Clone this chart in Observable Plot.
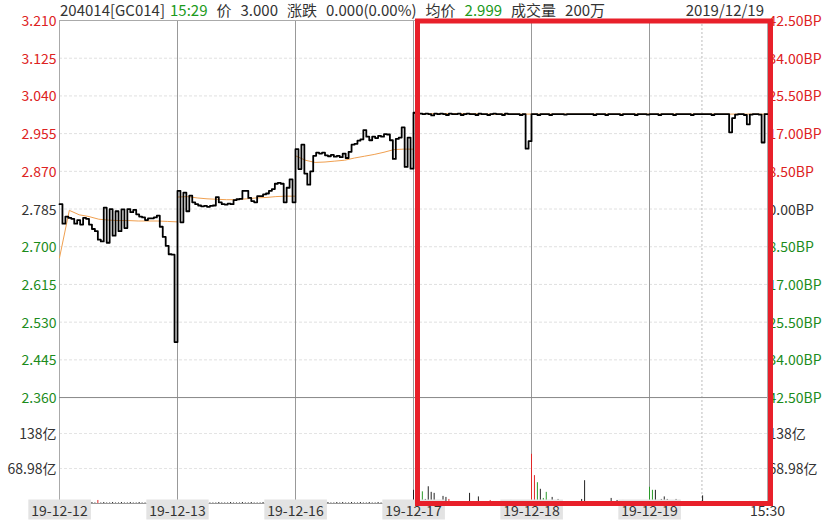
<!DOCTYPE html>
<html><head><meta charset="utf-8">
<script src="https://cdn.jsdelivr.net/npm/d3@7"></script>
<script src="https://cdn.jsdelivr.net/npm/@observablehq/plot@0.6"></script>
<style>
body{margin:0;background:#fff;}
#wrap{position:relative;width:823px;height:529px;font-family:"Noto Sans CJK SC","Noto Sans",sans-serif;}
#hdr{position:absolute;left:60px;top:0;height:20px;line-height:20px;font-size:15px;color:#333;white-space:nowrap;}
#hdr span{margin-right:9px}
#hdr span.first{margin-right:5px}
#date{position:absolute;right:59px;top:0;line-height:20px;font-size:15px;color:#333;}
.g{color:#1c9a1c}
</style></head>
<body><div id="wrap"><div id="chart"></div><div id="hdr"></div><div id="date"></div></div>
<script>
// ---- header texts ----
const hdrCode = "204014[GC014]";
const hdrTime = "15:29";
const hdrPrice = "3.000";
const hdrChange = "0.000(0.00%)";
const hdrAvg = "2.999";
const hdrVol = "200万";
const hdrDate = "2019/12/19";

// ---- axis ticks / labels ----
const dates = ["19-12-12","19-12-13","19-12-16","19-12-17","19-12-18","19-12-19"];
const endLabel = "15:30";
const prevClose = 2.785;
const priceTicks = [3.210,3.125,3.040,2.955,2.870,2.785,2.700,2.615,2.530,2.445,2.360];
const priceLabels = ["3.210","3.125","3.040","2.955","2.870","2.785","2.700","2.615","2.530","2.445","2.360"];
const bpLabels = ["42.50BP","34.00BP","25.50BP","17.00BP","8.50BP","0.00BP","8.50BP","17.00BP","25.50BP","34.00BP","42.50BP"];
const volTicks = [138, 68.98];
const volLabels = ["138亿","68.98亿"];
const highlightDay = "19-12-17";

// ---- price series (per day, equally spaced samples) ----
const price1 = [2.796,2.752,2.768,2.765,2.763,2.752,2.760,2.750,2.765,2.763,2.750,2.740,2.735,2.716,2.712,2.788,2.709,2.785,2.725,2.780,2.735,2.784,2.742,2.785,2.778,2.783,2.773,2.768,2.766,2.760,2.764,2.764,2.766,2.770,2.745,2.722,2.702,2.683,2.682,2.485];
const price2 = [2.826,2.755,2.822,2.780,2.815,2.800,2.796,2.793,2.791,2.792,2.790,2.792,2.793,2.812,2.800,2.796,2.795,2.797,2.796,2.805,2.807,2.808,2.826,2.826,2.810,2.803,2.800,2.814,2.814,2.818,2.820,2.826,2.830,2.842,2.844,2.842,2.800,2.833,2.852,2.800];
const price3 = [2.920,2.875,2.930,2.865,2.840,2.870,2.905,2.912,2.910,2.912,2.906,2.904,2.907,2.903,2.905,2.902,2.910,2.900,2.914,2.930,2.932,2.939,2.942,2.963,2.948,2.940,2.948,2.945,2.950,2.948,2.954,2.953,2.940,2.898,2.943,2.946,2.969,2.880,2.946,2.876];
const price4 = [3.002,3.001,3.000,2.999,3.000,2.999,2.996,3.000,2.999,3.000,2.999,2.997,3.000,2.999,2.999,3.000,2.997,2.999,3.000,2.999,2.999,2.997,3.000,2.999,2.999,2.997,2.999,3.000,2.999,2.999,2.997,3.000,2.999,2.999,2.999,2.999,2.997,2.999,2.921,2.938];
const price5 = [2.999,2.999,2.997,2.999,2.999,2.999,2.997,2.999,2.999,2.999,2.999,2.998,2.999,2.999,2.999,2.999,2.999,2.999,2.999,2.999,2.999,2.997,2.999,2.999,2.999,2.997,2.999,2.999,2.999,2.999,2.997,2.999,2.999,2.999,2.999,2.997,2.999,2.999,2.999,2.998];
const price6 = [2.999,2.999,2.999,2.997,2.999,2.999,2.999,2.999,2.997,2.999,2.999,2.999,2.999,2.999,2.997,2.999,2.999,2.999,2.999,2.999,2.999,2.997,2.999,2.999,2.999,2.999,2.999,2.958,2.990,2.998,2.999,2.999,2.997,2.976,2.998,2.999,2.999,2.998,2.935,2.999];

// ---- average price (per day, 12 intervals incl. day end) ----
const avg1 = [2.675,2.782,2.772,2.768,2.762,2.760,2.759,2.759,2.758,2.758,2.758,2.757,2.756];
const avg2 = [2.812,2.813,2.810,2.808,2.807,2.806,2.806,2.808,2.810,2.811,2.813,2.814,2.814];
const avg3 = [2.905,2.895,2.890,2.891,2.893,2.895,2.900,2.904,2.908,2.913,2.919,2.920,2.920];
const avg4 = [3.001,3.000,3.000,3.000,3.000,3.000,3.000,2.999,2.999,2.999,2.999,2.999,2.999];
const avg5 = [2.999,2.999,2.999,2.999,2.999,2.999,2.999,2.999,2.999,2.999,2.999,2.999,2.999];
const avg6 = [2.999,2.999,2.999,2.999,2.999,2.999,2.999,2.999,2.999,2.999,2.999,2.999,2.999];

// ---- volume (亿) per day ----
const vol1 = [3,1,2,1,2,1,1,2,1,2,1,2,1,6,1,2,1,1,2,1,1,2,1,1,2,1,1,2,1,1,2,1,1,2,1,1,2,1,2,3];
const vol2 = [2,1,1,2,1,1,1,2,1,1,2,1,1,1,2,1,1,1,2,1,1,1,2,1,1,2,1,1,1,2,1,1,2,1,1,2,1,1,2,1];
const vol3 = [2,1,2,1,1,2,1,1,2,1,1,2,1,1,2,1,2,1,1,2,1,1,2,1,1,2,1,1,2,1,1,2,1,1,2,1,1,2,1,2];
const vol4 = [26,3,12,23,8,33,22,20,3,2,14,12,8,2,1,2,1,2,3,20,1,2,13,2,1,2,6,1,1,2,1,1,2,6,1,1,2,1,1,2];
const vol5 = [97,55,41,28,10,22,3,12,2,8,1,2,1,2,1,1,2,8,45,2,1,2,1,1,2,1,2,10,1,6,1,6,1,2,1,1,2,1,1,2];
const vol6 = [32,26,26,2,8,13,8,2,1,8,6,1,2,1,1,2,1,1,15,1,2,1,1,2,1,1,2,1,1,2,1,1,2,1,4,1,1,2,1,2];
const volRedIdx = [[13],[],[],[12,26],[0,1],[]];
const volGreenIdx = [[],[],[],[3],[2,4,5],[0,1]];

// ---- layout constants ----
const pMax = priceTicks[0], pMin = priceTicks[priceTicks.length-1];
const volPanelRatio = 0.281;      // volume panel height / price panel height
const volPanelMax = 209;          // volume (亿) at top of volume panel
const yBottom = pMin - (pMax - pMin) * volPanelRatio;
const volY = v => yBottom + v / volPanelMax * (pMin - yBottom);

const RED = "#dd2222", GREEN = "#1c8c1c", DARK = "#333";

// ---- header ----
document.getElementById("hdr").innerHTML =
  `<span class="first">${hdrCode}</span><span class="g">${hdrTime}</span><span>价</span><span>${hdrPrice}</span><span>涨跌</span><span>${hdrChange}</span><span>均价</span><span class="g">${hdrAvg}</span><span>成交量</span><span>${hdrVol}</span>`;
document.getElementById("date").textContent = hdrDate;

// ---- build data ----
const prices = [price1,price2,price3,price4,price5,price6];
const priceData = prices.flatMap((arr,d) => arr.map((p,i) => ({x: d + i/arr.length, y: p})));
priceData.push({x: prices.length, y: price6[price6.length-1]});

const avgs = [avg1,avg2,avg3,avg4,avg5,avg6];
const avgData = avgs.flatMap((arr,d) => arr.map((p,i) => ({x: d + i/(arr.length-1), y: p})));

const vols = [vol1,vol2,vol3,vol4,vol5,vol6];
const volData = vols.flatMap((arr,d) => arr.map((v,i) => ({
  x: d + i/arr.length, v,
  c: volRedIdx[d].includes(i) ? "#e02828" : volGreenIdx[d].includes(i) ? "#2a9a2a" : "#222"
})));

const colorOf = p => p > prevClose + 1e-9 ? RED : p < prevClose - 1e-9 ? GREEN : DARK;
const leftData = priceTicks.map((p,i) => ({y: p, label: priceLabels[i], color: colorOf(p)}))
  .concat(volTicks.map((v,i) => ({y: volY(v), label: volLabels[i], color: DARK})));
const rightData = priceTicks.map((p,i) => ({y: p, label: bpLabels[i], color: colorOf(p)}))
  .concat(volTicks.map((v,i) => ({y: volY(v), label: volLabels[i], color: DARK})));
const xLabelData = dates.map((d,i) => ({x: i, label: d})).concat([{x: dates.length, label: endLabel}]);

const hi = dates.indexOf(highlightDay);
const boxData = [{x1: hi, x2: dates.length, y1: yBottom, y2: pMax}];

const svg = Plot.plot({
  width: 823, height: 529,
  marginTop: 20, marginBottom: 26, marginLeft: 59, marginRight: 56,
  x: {domain: [0, dates.length], axis: null},
  y: {domain: [yBottom, pMax], axis: null},
  color: {type: "identity"},
  style: {fontFamily: '"Noto Sans CJK SC","Noto Sans",sans-serif', fontSize: "14px", background: "#fff", overflow: "visible"},
  marks: [
    Plot.ruleY(priceTicks.slice(1, -1), {stroke: "#e0e0e0", strokeDasharray: "3,2"}),
    Plot.ruleY(volTicks.map(volY), {stroke: "#e4e4e4", strokeDasharray: "3,2"}),
    Plot.ruleX([5 + 120/270], {stroke: "#bbb", strokeDasharray: "2,2"}),
    Plot.ruleX(d3.range(1, dates.length), {stroke: "#999"}),
    Plot.ruleX([0, dates.length], {stroke: "#aaa"}),
    Plot.ruleY([pMax], {stroke: "#aaa"}),
    Plot.ruleY([pMin], {stroke: "#888"}),
    Plot.ruleY([yBottom], {stroke: "#999"}),
    Plot.ruleX(volData, {x: "x", y1: yBottom, y2: d => volY(d.v), stroke: "c", strokeWidth: 1}),
    Plot.line(avgData, {x: "x", y: "y", stroke: "#f0a050", strokeWidth: 1}),
    Plot.line(priceData, {x: "x", y: "y", curve: "step-after", stroke: "#000", strokeWidth: 1.8}),
    Plot.text(leftData, {y: "y", text: "label", fill: "color", frameAnchor: "left", textAnchor: "end", dx: -3, dy: 1, fontSize: 14}),
    Plot.text(rightData, {y: "y", text: "label", fill: "color", frameAnchor: "right", textAnchor: "start", dx: 1, dy: 1, fontSize: 14}),
    Plot.text(xLabelData, {x: "x", text: "label", frameAnchor: "bottom", dy: 12, fill: DARK, fontSize: 14}),
    Plot.rect(boxData, {x1: "x1", x2: "x2", y1: "y1", y2: "y2", fill: "none", stroke: "#e8202a", strokeWidth: 5,
      insetLeft: 4.5, insetRight: -3.5, insetTop: 1, insetBottom: -0.5})
  ]
});
document.getElementById("chart").append(svg);

// gray backgrounds behind the date labels
const dateSet = new Set(dates);
svg.querySelectorAll("text").forEach(t => {
  if (!dateSet.has(t.textContent)) return;
  const b = t.getBBox();
  const r = document.createElementNS("http://www.w3.org/2000/svg", "rect");
  r.setAttribute("x", b.x - 3); r.setAttribute("y", b.y);
  r.setAttribute("width", b.width + 6); r.setAttribute("height", b.height);
  r.setAttribute("fill", "#e3e3e3");
  const tr = t.getAttribute("transform"); if (tr) r.setAttribute("transform", tr);
  t.parentNode.insertBefore(r, t);
});
</script>
</body></html>
